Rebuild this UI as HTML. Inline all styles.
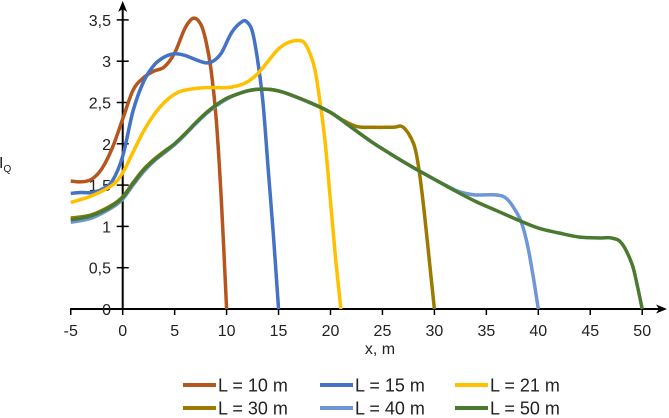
<!DOCTYPE html>
<html><head><meta charset="utf-8"><style>
body{margin:0;background:#fff;}
svg{display:block;font-family:"Liberation Sans",sans-serif;}
</style></head><body>
<svg id="chart" width="669" height="418">
<g id="axes"></g>
<g id="series"></g>
<g id="legend"></g>
</svg>
<script>
const xTicks=[-5,0,5,10,15,20,25,30,35,40,45,50];
const yTicks=[0,0.5,1,1.5,2,2.5,3,3.5];
const yTickLabels=["0","0,5","1","1,5","2","2,5","3","3,5"];
const seriesNames=["L = 10 m","L = 15 m","L = 21 m","L = 30 m","L = 40 m","L = 50 m"];
const seriesColors=["#b5561f","#4472c4","#ffc000","#9c7a00","#6f96d6","#4a7a2f"];
const l10X=[-5,-4,-3,-2,-1,0,1,2,3,4,5,6,6.8,7.5,8,8.5,9,9.5,10];
const l10Y=[1.55,1.54,1.57,1.7,1.95,2.3,2.65,2.8,2.88,2.93,3.1,3.4,3.52,3.45,3.25,2.9,2.3,1.3,0];
const l15X=[-5,-4,-3,-2,-1,0,1,2,3,4,5,6,7,8,8.7,9.5,10.5,11.5,12,12.5,13,13.5,14,14.5,15];
const l15Y=[1.4,1.41,1.41,1.45,1.55,1.85,2.4,2.75,2.95,3.05,3.09,3.07,3.02,2.98,3.0,3.1,3.35,3.48,3.47,3.35,3.0,2.5,1.7,0.9,0];
const l21X=[-5,-3,-1,0,1,2,3,4,5,6,8,10,11,12,13,14,15,16,17,17.5,18,18.5,19,19.5,20,20.5,21];
const l21Y=[1.29,1.37,1.5,1.65,1.9,2.15,2.35,2.5,2.6,2.65,2.68,2.68,2.7,2.75,2.85,3.0,3.15,3.23,3.25,3.22,3.1,2.9,2.5,2.0,1.3,0.6,0];
const l30X=[-5,-3,-1,0,1,2,3,4,5,6,7,8,9,10,11,12,13,14,15,16,18,20,21,22.5,24,26,27,28,28.5,29,29.5,30];
const l30Y=[1.1,1.14,1.26,1.36,1.53,1.69,1.81,1.91,2.0,2.12,2.25,2.37,2.47,2.55,2.6,2.64,2.66,2.66,2.64,2.6,2.5,2.38,2.3,2.21,2.2,2.2,2.2,2.0,1.7,1.2,0.6,0];
const l40X=[-5,-3,-1,0,1,2,3,4,5,6,7,8,9,10,11,12,13,14,15,16,18,20,22,24,26,28,30,32,33,34,36,37,38,38.5,39,39.5,40];
const l40Y=[1.05,1.1,1.23,1.33,1.5,1.66,1.79,1.89,1.99,2.11,2.24,2.36,2.46,2.54,2.6,2.64,2.66,2.66,2.64,2.6,2.5,2.38,2.2,2.02,1.86,1.71,1.57,1.44,1.4,1.38,1.38,1.33,1.15,1.0,0.75,0.4,0];
const l50X=[-5,-4,-3,-2,-1,0,1,2,3,4,5,6,7,8,9,10,11,12,13,14,15,16,18,20,22,24,26,28,30,32,34,36,38,40,42,44,46,47,48,49,49.5,50];
const l50Y=[1.08,1.1,1.13,1.18,1.25,1.35,1.52,1.68,1.8,1.9,2.0,2.12,2.25,2.37,2.47,2.55,2.6,2.64,2.66,2.66,2.64,2.6,2.5,2.38,2.2,2.02,1.86,1.71,1.57,1.43,1.3,1.19,1.08,0.98,0.92,0.87,0.86,0.86,0.8,0.55,0.3,0];
const allX=[l10X,l15X,l21X,l30X,l40X,l50X];
const allY=[l10Y,l15Y,l21Y,l30Y,l40Y,l50Y];

const NS="http://www.w3.org/2000/svg";
function sx(v){return 122.7+v*10.39;}
function sy(v){return 309-v*82.6;}
function mk(tag,attrs,parent){const e=document.createElementNS(NS,tag);for(const k in attrs)e.setAttribute(k,attrs[k]);parent.appendChild(e);return e;}
const axes=document.getElementById('axes');
let e;
e=mk('line',{x1:70,y1:309,x2:660,y2:309,stroke:'#000','stroke-width':2},axes);


e=mk('path',{d:'M667 309 L656 304.5 L659 309 L656 313.5 Z',fill:'#000'},axes);


e=mk('line',{x1:sx(0),y1:309,x2:sx(0),y2:8,stroke:'#000','stroke-width':2},axes);


e=mk('path',{d:`M${sx(0)} 1 L${sx(0)-4.5} 12 L${sx(0)} 9 L${sx(0)+4.5} 12 Z`,fill:'#000'},axes);


xTicks.forEach(t=>{
  const l=mk('line',{x1:sx(t),y1:309,x2:sx(t),y2:315,stroke:'#000','stroke-width':1.5},axes);
  
  
  const tx=mk('text',{x:sx(t),y:336,'text-anchor':'middle','font-size':16,fill:'#222'},axes);
  tx.textContent=String(t);
  
  
});
yTicks.forEach((t,i)=>{
  if(t>0){const l=mk('line',{x1:sx(0)-6,y1:sy(t),x2:sx(0)+6,y2:sy(t),stroke:'#000','stroke-width':1.5},axes);
  
  }
  const tx=mk('text',{x:111,y:sy(t)+6,'text-anchor':'end','font-size':16,fill:'#222'},axes);
  tx.textContent=yTickLabels[i];
  
  
});
e=mk('text',{x:380,y:354,'text-anchor':'middle','font-size':16,fill:'#222'},axes);
e.textContent='x, m';


e=mk('text',{x:-1,y:168,'font-size':16,fill:'#222'},axes);
e.innerHTML='I<tspan font-size="10" dy="4">Q</tspan>';



function smooth(xs,ys){
  const p=xs.map((x,i)=>[sx(x),sy(ys[i])]);
  let d=`M${p[0][0]} ${p[0][1]}`;
  for(let i=0;i<p.length-1;i++){
    const p0=p[Math.max(0,i-1)],p1=p[i],p2=p[i+1],p3=p[Math.min(p.length-1,i+2)];
    const c1=[p1[0]+(p2[0]-p0[0])/6,p1[1]+(p2[1]-p0[1])/6];
    const c2=[p2[0]-(p3[0]-p1[0])/6,p2[1]-(p3[1]-p1[1])/6];
    d+=` C${c1[0]} ${c1[1]} ${c2[0]} ${c2[1]} ${p2[0]} ${p2[1]}`;
  }
  return d;
}
const sg=document.getElementById('series');
const lg=document.getElementById('legend');
const legPos=[[183,385],[320,385],[455,385],[183,408],[320,408],[455,408]];
seriesNames.forEach((n,i)=>{
  const p=mk('path',{d:smooth(allX[i],allY[i]),fill:'none',stroke:seriesColors[i],'stroke-width':3.5,'stroke-linejoin':'round'},sg);
  
  
  const [lx,ly]=legPos[i];
  const g=mk('g',{},lg);
  
  
  mk('line',{x1:lx,y1:ly,x2:lx+33,y2:ly,stroke:seriesColors[i],'stroke-width':4},g);
  const t=mk('text',{x:lx+35,y:ly+6.5,'font-size':18,fill:'#222'},g);
  t.textContent=n;
});
</script>
</body></html>
